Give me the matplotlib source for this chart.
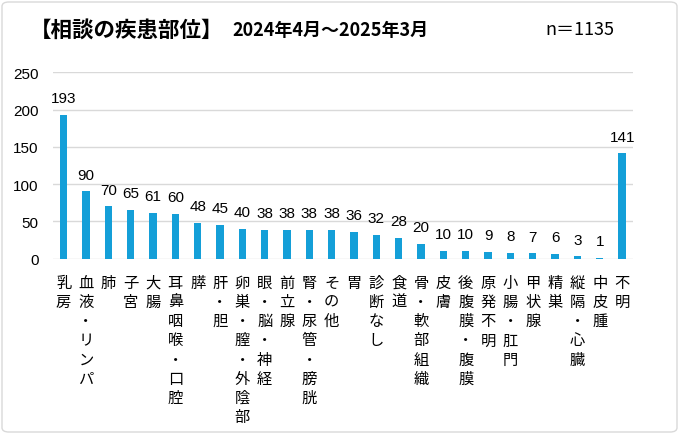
import matplotlib
matplotlib.use("Agg")
import matplotlib.pyplot as plt
from matplotlib.patches import FancyBboxPatch

plt.rcParams['font.family'] = ['Liberation Sans', 'Noto Sans CJK JP', 'DejaVu Sans']

categories = ["乳房", "血液・リンパ", "肺", "子宮", "大腸", "耳鼻咽喉・口腔", "膵", "肝・胆",
              "卵巣・膣・外陰部", "眼・脳・神経", "前立腺", "腎・尿管・膀胱", "その他", "胃",
              "診断なし", "食道", "骨・軟部組織", "皮膚", "後腹膜・腹膜", "原発不明", "小腸・肛門",
              "甲状腺", "精巣", "縦隔・心臓", "中皮腫", "不明"]
values = [193, 90, 70, 65, 61, 60, 48, 45, 40, 38, 38, 38, 38, 36, 32, 28, 20, 10, 10, 9, 8, 7, 6, 3, 1, 141]
yticks = [0, 50, 100, 150, 200, 250]

W, H = 680, 435
fig = plt.figure(figsize=(W / 100, H / 100), dpi=100)
fig.patch.set_facecolor('white')

# outer rounded border
border = FancyBboxPatch((2 / W, 2 / H), (W - 5) / W, (H - 5) / H,
                        boxstyle="round,pad=0,rounding_size=0.01",
                        transform=fig.transFigure, facecolor='none',
                        edgecolor='#d9d9d9', linewidth=1.0, zorder=-1)
fig.patches.append(border)

ax_left, ax_right = 52.5, 633.3
ax_bottom, ax_top = 259.5, 73.3
ax = fig.add_axes([ax_left / W, 1 - ax_bottom / H, (ax_right - ax_left) / W, (ax_bottom - ax_top) / H])
ax.set_facecolor('none')

x = list(range(len(categories)))
bars = ax.bar(x, values, width=0.33, color='#149fd8', zorder=3)
ax.set_xlim(-0.5, len(categories) - 0.5)
ax.set_ylim(0, 250)
ax.set_yticks(yticks)
ax.set_yticklabels([str(t) for t in yticks], fontsize=11)
ax.yaxis.grid(True, color='#d9d9d9', linewidth=1.0, zorder=0)
for s in ax.spines.values():
    s.set_visible(False)
ax.tick_params(axis='y', length=0, pad=10)
ax.tick_params(axis='x', length=0)
ax.set_xticks(x)
ax.set_xticklabels(["\n".join(c) for c in categories], fontsize=11,
                   family=['Noto Sans CJK JP'], linespacing=1.17, va='top')
ax.tick_params(axis='x', pad=11)

for xi, v in zip(x, values):
    ax.annotate(str(v), (xi, v), xytext=(0, 7), textcoords='offset points',
                ha='center', va='bottom', fontsize=11)

fig.text(30 / W, 1 - 30 / H, "【相談の疾患部位】", fontsize=15.5, fontweight='bold',
         family=['Noto Sans CJK JP'], va='center', ha='left')
fig.text(232 / W, 1 - 30 / H, "2024年4月～2025年3月", fontsize=13, fontweight='bold',
         family=['Noto Sans CJK JP'], va='center', ha='left')
fig.text(545 / W, 1 - 30 / H, "n＝1135", fontsize=13,
         family=['Noto Sans CJK JP'], va='center', ha='left')

fig.savefig("out.png", dpi=100, facecolor='white')
